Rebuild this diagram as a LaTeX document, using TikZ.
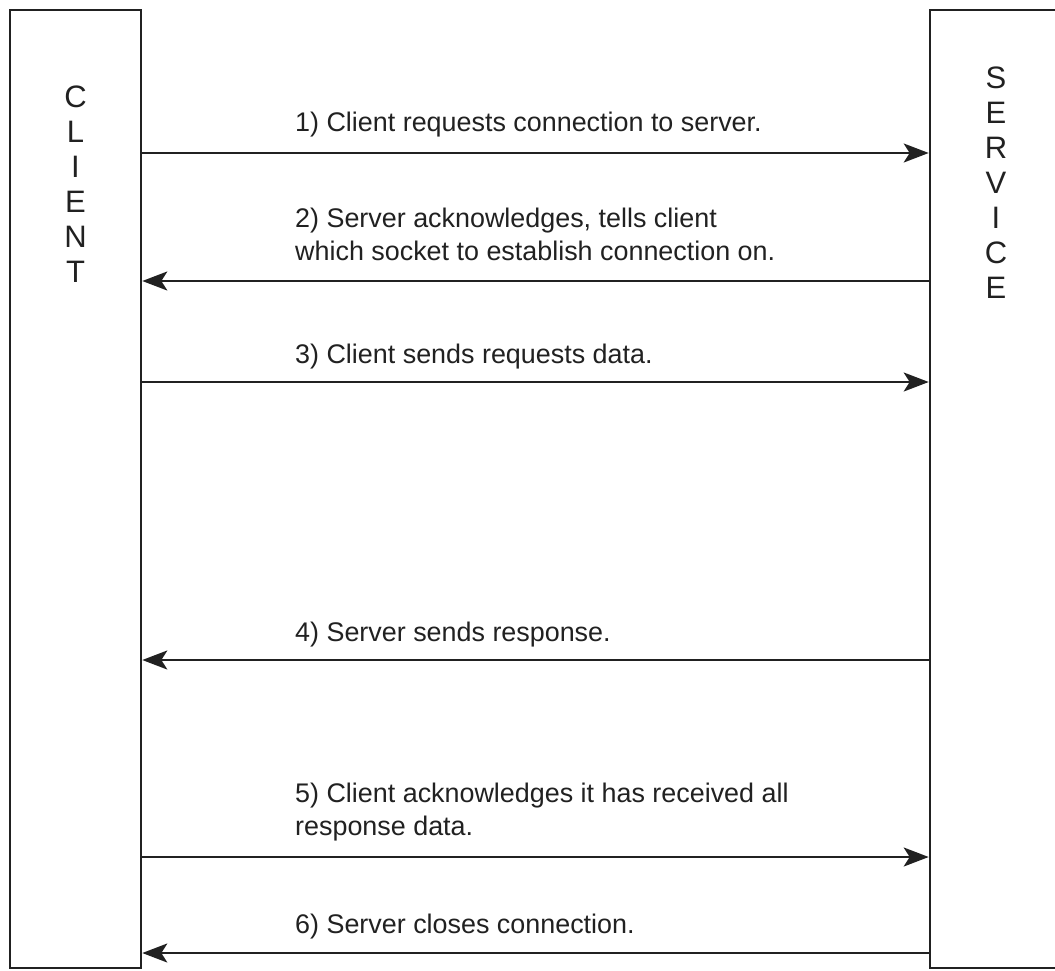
\documentclass[tikz,border=0pt]{standalone}
\usepackage{fontspec}
\setmainfont{Liberation Sans}
\usetikzlibrary{arrows.meta}
\definecolor{ink}{rgb}{0.13,0.13,0.13}
\begin{document}
\begin{tikzpicture}[x=1pt,y=-1pt,
  party/.style={draw=ink,line width=2.6pt,inner sep=0pt,fill=white},
  vlabel/.style={text=ink,font=\fontsize{31}{35}\selectfont,align=center,inner sep=0pt,anchor=base},
  msg/.style={text=ink,font=\fontsize{26.9}{33}\selectfont,align=left,inner sep=0pt,anchor=base west},
  flow/.style={draw=ink,line width=2.3pt,-{Stealth[length=25pt,width=19pt,inset=6pt]}}]
\useasboundingbox (0,0) rectangle (1055,970);
\fill[white] (0,0) rectangle (1055,970);

% the two parties (the service box runs on past the right edge)
\node[party,minimum width=131pt,minimum height=958pt] (client) at (75.5,489) {};
\node[party,minimum width=132pt,minimum height=958pt] (service) at (996,489) {};
% stacked letters; the base anchor sits on the last line
\node[vlabel] (clientname) at (75.5,282) {C\\L\\I\\E\\N\\T};
\node[vlabel] (servicename) at (996,298) {S\\E\\R\\V\\I\\C\\E};

% message rows
\coordinate (r1) at (0,153);
\coordinate (r2) at (0,281);
\coordinate (r3) at (0,382);
\coordinate (r4) at (0,660);
\coordinate (r5) at (0,857);
\coordinate (r6) at (0,953);

\node[msg] (m1) at (295,131) {1) Client requests connection to server.};
\node[msg] (m2) at (295,260) {2) Server acknowledges, tells client\\which socket to establish connection on.};
\node[msg] (m3) at (295,363) {3) Client sends requests data.};
\node[msg] (m4) at (295,641) {4) Server sends response.};
\node[msg] (m5) at (295,835) {5) Client acknowledges it has received all\\response data.};
\node[msg] (m6) at (295,933) {6) Server closes connection.};

\draw[flow] (client.east |- r1) -- (service.west |- r1);
\draw[flow] (service.west |- r2) -- (client.east |- r2);
\draw[flow] (client.east |- r3) -- (service.west |- r3);
\draw[flow] (service.west |- r4) -- (client.east |- r4);
\draw[flow] (client.east |- r5) -- (service.west |- r5);
\draw[flow] (service.west |- r6) -- (client.east |- r6);
\end{tikzpicture}
\end{document}
